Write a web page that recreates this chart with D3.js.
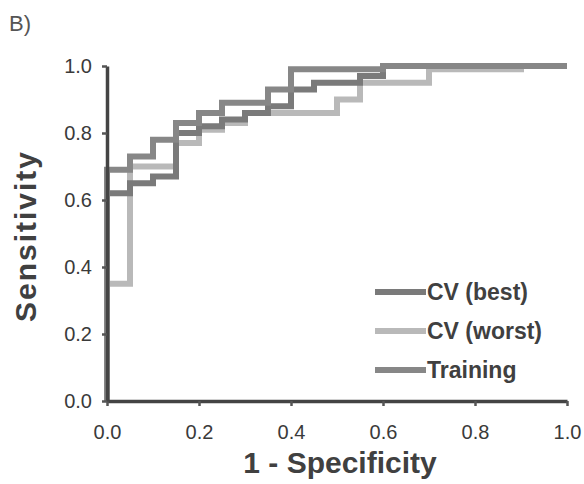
<!DOCTYPE html>
<html>
<head>
<meta charset="utf-8">
<script src="https://cdn.jsdelivr.net/npm/d3@7"></script>
<style>
  body { margin: 0; background: #fff; }
  text { font-family: "Liberation Sans", Arial, sans-serif; }
</style>
</head>
<body>
<svg width="584" height="484"></svg>
<script>
// ROC step curves: false positive rate (1 - specificity) vs sensitivity
var trainingFpr = [0, 0, 0.05, 0.10, 0.15, 0.20, 0.25, 0.35, 0.40, 0.60, 1.0];
var trainingTpr = [0, 0.69, 0.73, 0.78, 0.83, 0.86, 0.89, 0.93, 0.99, 1.0, 1.0];

var bestFpr = [0, 0, 0.05, 0.10, 0.15, 0.20, 0.25, 0.30, 0.35, 0.40, 0.45, 0.55, 0.60, 1.0];
var bestTpr = [0, 0.62, 0.65, 0.67, 0.80, 0.82, 0.84, 0.86, 0.88, 0.93, 0.95, 0.97, 1.0, 1.0];

var worstFpr = [0, 0, 0.05, 0.15, 0.20, 0.25, 0.30, 0.50, 0.55, 0.70, 0.90, 1.0];
var worstTpr = [0, 0.35, 0.70, 0.77, 0.81, 0.83, 0.86, 0.90, 0.95, 0.99, 1.0, 1.0];

var seriesNames = ["CV (best)", "CV (worst)", "Training"];
var seriesColors = ["#7a7a7a", "#b9b9b9", "#878787"];
var tickValues = [0, 0.2, 0.4, 0.6, 0.8, 1.0];

var svg = d3.select("svg");

var x = d3.scaleLinear().domain([0, 1]).range([107, 567]);
var y = d3.scaleLinear().domain([0, 1]).range([401, 66]);

function zip(a, b) {
    return a.map(function(v, i) { return [v, b[i]]; });
}

var series = [
    { name: seriesNames[1], color: seriesColors[1], pts: zip(worstFpr, worstTpr) },
    { name: seriesNames[0], color: seriesColors[0], pts: zip(bestFpr, bestTpr) },
    { name: seriesNames[2], color: seriesColors[2], pts: zip(trainingFpr, trainingTpr) }
];

var line = d3.line()
    .x(function(d) { return x(d[0]); })
    .y(function(d) { return y(d[1]); })
    .curve(d3.curveStepAfter);

svg.append("g")
    .selectAll("path")
    .data(series)
    .enter().append("path")
    .attr("d", function(d) { return line(d.pts); })
    .attr("fill", "none")
    .attr("stroke", function(d) { return d.color; })
    .attr("stroke-width", 6);

// axes
var fmt = d3.format(".1f");

var xAxis = svg.append("g")
    .attr("transform", "translate(0," + y(0) + ")")
    .call(d3.axisBottom(x).tickValues(tickValues).tickFormat(fmt).tickSizeInner(5).tickSizeOuter(0).tickPadding(19));

var yAxis = svg.append("g")
    .attr("transform", "translate(" + x(0) + ",0)")
    .call(d3.axisLeft(y).tickValues(tickValues).tickFormat(fmt).tickSizeInner(5).tickSizeOuter(0).tickPadding(10));

[xAxis, yAxis].forEach(function(ax) {
    ax.select(".domain").attr("stroke", "#444").attr("stroke-width", 3.5);
    ax.selectAll(".tick line").attr("stroke", "#555").attr("stroke-width", 2.5);
    ax.selectAll(".tick text")
        .attr("fill", "#3a3a3a")
        .style("font-size", "20px")
        .style("font-family", "Liberation Sans, Arial, sans-serif");
});

// axis titles
svg.append("text")
    .attr("x", 340)
    .attr("y", 473)
    .attr("text-anchor", "middle")
    .attr("fill", "#404040")
    .style("font-size", "30px")
    .style("font-weight", "bold")
    .text("1 - Specificity");

svg.append("text")
    .attr("transform", "translate(36,236) rotate(-90)")
    .attr("text-anchor", "middle")
    .attr("fill", "#404040")
    .style("font-size", "30px")
    .style("font-weight", "bold")
    .style("letter-spacing", "2px")
    .text("Sensitivity");

svg.append("text")
    .attr("x", 9)
    .attr("y", 31)
    .attr("fill", "#555")
    .style("font-size", "22px")
    .text("B)");

// legend
var legend = svg.append("g")
    .selectAll("g")
    .data(seriesNames)
    .enter().append("g")
    .attr("transform", function(d, i) { return "translate(375," + (292 + i * 39) + ")"; });

legend.append("line")
    .attr("x1", 0)
    .attr("x2", 51)
    .attr("stroke", function(d, i) { return seriesColors[i]; })
    .attr("stroke-width", 6);

legend.append("text")
    .attr("x", 52)
    .attr("y", 8)
    .attr("fill", "#404040")
    .style("font-size", "23px")
    .style("font-weight", "bold")
    .text(function(d) { return d; });
</script>
</body>
</html>
